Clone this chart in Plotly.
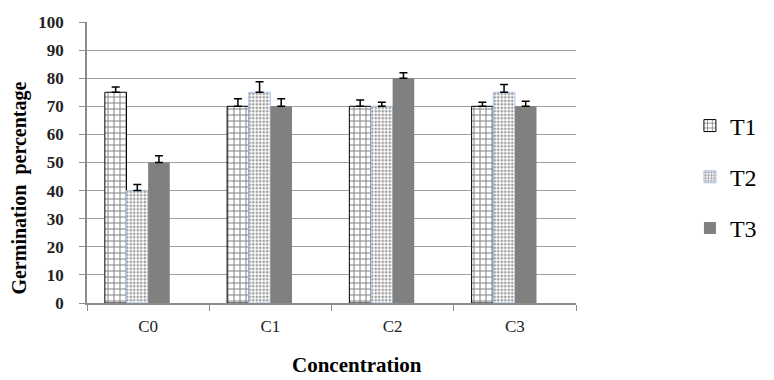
import plotly.graph_objects as go

categories = ["C0", "C1", "C2", "C3"]
series_names = ["T1", "T2", "T3"]
t1_values = [75, 70, 70, 70]
t2_values = [40, 75, 70, 75]
t3_values = [50, 70, 80, 70]
t1_errors = [1.9, 2.7, 2.2, 1.4]
t2_errors = [2.2, 3.7, 1.4, 2.8]
t3_errors = [2.4, 2.7, 1.9, 1.8]
y_ticks = [0, 10, 20, 30, 40, 50, 60, 70, 80, 90, 100]

FONT = "Liberation Serif, Times New Roman, serif"
BW = 0.177  # bar width in category units

err_style = dict(type="data", symmetric=False, color="black", thickness=1.5, width=4)

fig = go.Figure()
fig.add_trace(go.Bar(
    x=categories, y=t1_values, name=series_names[0], legendgroup="g1",
    width=BW, offset=-2 * BW,
    marker=dict(color="white", line=dict(color="black", width=1),
                pattern=dict(shape="+", fgcolor="black", bgcolor="white", size=6, solidity=0.3)),
    error_y=dict(array=t1_errors, arrayminus=[0] * 4, **err_style),
))
fig.add_trace(go.Bar(
    x=categories, y=t2_values, name=series_names[1], legendgroup="g2",
    width=BW, offset=-BW,
    marker=dict(color="white", line=dict(color="#a9c4ea", width=1),
                pattern=dict(shape=".", fgcolor="#333333", bgcolor="white", size=3.5, solidity=0.45)),
    error_y=dict(array=t2_errors, arrayminus=[0] * 4, **err_style),
))
fig.add_trace(go.Bar(
    x=categories, y=t3_values, name=series_names[2], legendgroup="g3",
    width=BW, offset=0,
    marker=dict(color="#808080", line=dict(width=0)),
    error_y=dict(array=t3_errors, arrayminus=[0] * 4, **err_style),
))

fig.update_layout(
    width=774, height=380,
    margin=dict(l=87, r=189, t=22, b=77),
    plot_bgcolor="white", paper_bgcolor="white",
    barmode="overlay",
    font=dict(family=FONT, color="black"),
    legend=dict(
        x=1.233, xanchor="left", y=0.71, yanchor="top",
        font=dict(family=FONT, size=24, color="black"),
        tracegroupgap=17, bgcolor="rgba(0,0,0,0)",
    ),
    xaxis=dict(
        type="category", categoryorder="array", categoryarray=categories,
        range=[-0.5, 3.5], showgrid=False,
        showline=True, linecolor="#8c8c8c", linewidth=1.5,
        ticks="outside", tickson="boundaries", ticklen=6, tickcolor="#8c8c8c", tickwidth=1,
        tickfont=dict(family=FONT, size=17, color="#222"),
        ticklabelstandoff=7,
    ),
    yaxis=dict(
        range=[0, 100], tickvals=y_ticks, ticktext=[str(v) for v in y_ticks],
        showgrid=True, gridcolor="#a0a0a0", gridwidth=1,
        showline=True, linecolor="#8c8c8c", linewidth=1.5,
        ticks="outside", ticklen=6, tickcolor="#8c8c8c", tickwidth=1,
        tickfont=dict(family=FONT, size=17, color="#222", weight="bold"),
        ticklabelstandoff=12, zeroline=False,
    ),
    annotations=[
        dict(text="Germination  percentage", textangle=-90, xref="paper", yref="paper",
             x=-0.1386, y=0.408, xanchor="center", yanchor="middle", showarrow=False,
             font=dict(family=FONT, size=20, color="black", weight="bold")),
        dict(text="Concentration", xref="paper", yref="paper",
             x=0.553, y=-0.2655, xanchor="center", yanchor="bottom", showarrow=False,
             borderpad=0,
             font=dict(family=FONT, size=21, color="black", weight="bold")),
    ],
)

fig.write_html(
    "out.html",
    config={"displayModeBar": False},
    post_script="document.body.style.margin='0px';document.body.style.overflow='hidden';",
)
